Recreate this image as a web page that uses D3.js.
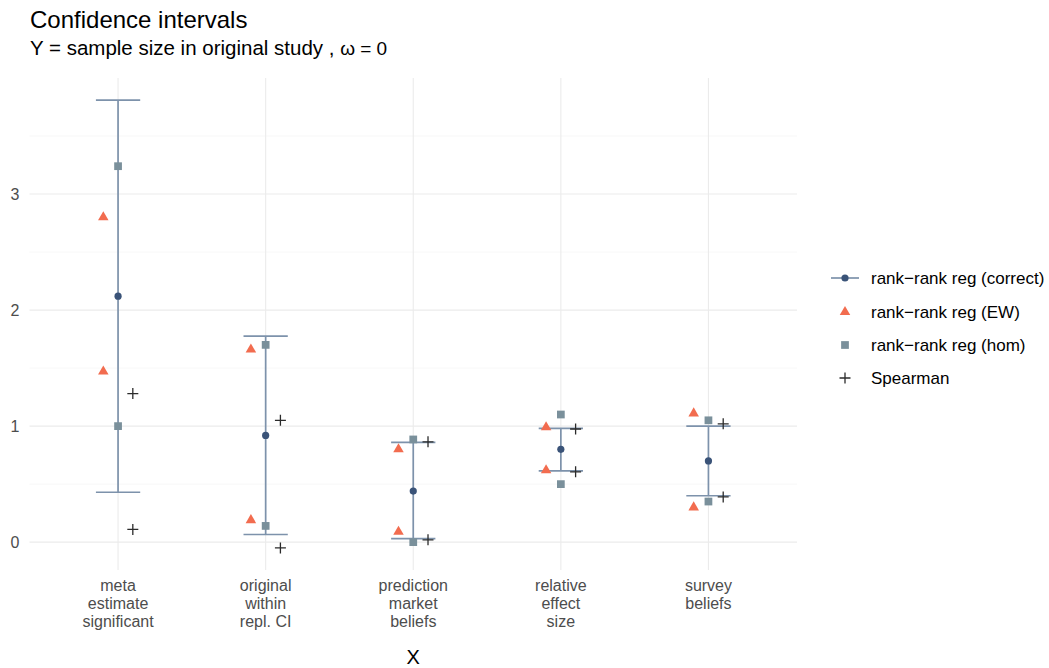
<!DOCTYPE html>
<html><head><meta charset="utf-8">
<script src="https://cdn.jsdelivr.net/npm/d3@7"></script>
<style>body{margin:0;background:#fff}svg{display:block;font-family:"Liberation Sans",Arial,sans-serif}</style>
</head><body>
<svg id="c" width="1049" height="668"></svg>
<script>
const categories = ["meta\nestimate\nsignificant","original\nwithin\nrepl. CI","prediction\nmarket\nbeliefs","relative\neffect\nsize","survey\nbeliefs"];
const correctEst = [2.12, 0.92, 0.44, 0.80, 0.70];
const correctLow = [0.43, 0.066, 0.03, 0.615, 0.40];
const correctHigh = [3.81, 1.775, 0.86, 0.98, 1.00];
const ewHigh = [2.80, 1.66, 0.80, 0.99, 1.11];
const ewLow = [1.47, 0.19, 0.09, 0.62, 0.30];
const homHigh = [3.24, 1.70, 0.885, 1.10, 1.05];
const homLow = [1.00, 0.14, 0.00, 0.50, 0.35];
const spearHigh = [1.28, 1.05, 0.865, 0.975, 1.02];
const spearLow = [0.11, -0.05, 0.02, 0.606, 0.39];
const yTicks = [0, 1, 2, 3];
const legendLabels = ["rank\u2212rank reg (correct)","rank\u2212rank reg (EW)","rank\u2212rank reg (hom)","Spearman"];

const colCI = "#7d92ab", colPt = "#3a5378", colEW = "#f26c4f", colHom = "#7a909b", colSp = "#2b2b2b";
const svg = d3.select("#c");
const L = 29.5, R = 797, T = 78, B = 570;
const x = d3.scaleLinear().domain([-0.6, 4.6]).range([L, R]);
const y = d3.scaleLinear().domain([-0.24, 4.0]).range([B, T]);
const dodge = 0.1;

// grid
const g = svg.append("g");
[0.5, 1.5, 2.5, 3.5].forEach(v => {
  g.append("line").attr("x1", L).attr("x2", R).attr("y1", y(v)).attr("y2", y(v)).attr("stroke", "#f2f2f2").attr("stroke-width", 0.6);
});
yTicks.forEach(v => {
  g.append("line").attr("x1", L).attr("x2", R).attr("y1", y(v)).attr("y2", y(v)).attr("stroke", "#ebebeb").attr("stroke-width", 1.1);
});
categories.forEach((c, i) => {
  g.append("line").attr("x1", x(i)).attr("x2", x(i)).attr("y1", T).attr("y2", B).attr("stroke", "#ebebeb").attr("stroke-width", 1.1);
});

// y axis labels
svg.append("g").selectAll("text").data(yTicks).join("text")
  .attr("x", 19.5).attr("y", d => y(d)).attr("dy", "0.36em").attr("text-anchor", "end")
  .attr("font-size", 16).attr("fill", "#4d4d4d").text(d => d);

// x labels
categories.forEach((c, i) => {
  const t = svg.append("text").attr("text-anchor", "middle").attr("font-size", 16).attr("fill", "#4d4d4d");
  c.split("\n").forEach((line, j) => {
    t.append("tspan").attr("x", x(i)).attr("y", 591 + j * 18).text(line);
  });
});
svg.append("text").attr("x", x(2)).attr("y", 664).attr("text-anchor", "middle").attr("font-size", 20).attr("fill", "#000").text("X");

// title
svg.append("text").attr("x", 30).attr("y", 28).attr("font-size", 24).attr("fill", "#000").text("Confidence intervals");
const sub = svg.append("text").attr("x", 30).attr("y", 55).attr("font-size", 20.5).attr("fill", "#000");
sub.append("tspan").text("Y = sample size in original study , ");
sub.append("tspan").attr("font-size", 19).text("\u03c9 = 0");

// CI errorbars
const hw = 0.15;
const idx = d3.range(categories.length);
const eb = svg.append("g").attr("stroke", colCI).attr("stroke-width", 1.7).attr("fill", "none");
idx.forEach(i => {
  eb.append("line").attr("x1", x(i)).attr("x2", x(i)).attr("y1", y(correctLow[i])).attr("y2", y(correctHigh[i]));
  eb.append("line").attr("x1", x(i - hw)).attr("x2", x(i + hw)).attr("y1", y(correctLow[i])).attr("y2", y(correctLow[i]));
  eb.append("line").attr("x1", x(i - hw)).attr("x2", x(i + hw)).attr("y1", y(correctHigh[i])).attr("y2", y(correctHigh[i]));
});

const tri = d3.symbol().type(d3.symbolTriangle).size(48);
const sq = d3.symbol().type(d3.symbolSquare).size(60);
const plus = "M-5.5,0H5.5M0,-5.5V5.5";

function drawTri(arr) {
  svg.append("g").selectAll("path").data(arr).join("path")
    .attr("d", tri).attr("fill", colEW)
    .attr("transform", (d, i) => `translate(${x(i - dodge)},${y(d)})`);
}
function drawSq(arr) {
  svg.append("g").selectAll("path").data(arr).join("path")
    .attr("d", sq).attr("fill", colHom)
    .attr("transform", (d, i) => `translate(${x(i)},${y(d)})`);
}
function drawPlus(arr) {
  svg.append("g").selectAll("path").data(arr).join("path")
    .attr("d", plus).attr("stroke", colSp).attr("stroke-width", 1.3).attr("fill", "none")
    .attr("transform", (d, i) => `translate(${x(i + dodge)},${y(d)})`);
}
drawTri(ewHigh); drawTri(ewLow);
drawSq(homHigh); drawSq(homLow);
drawPlus(spearHigh); drawPlus(spearLow);
svg.append("g").selectAll("circle").data(correctEst).join("circle")
  .attr("cx", (d, i) => x(i)).attr("cy", d => y(d)).attr("r", 3.6).attr("fill", colPt);

// legend
const lg = svg.append("g");
const ly = [278, 312, 345, 378];
legendLabels.forEach((t, k) => {
  const cy = ly[k];
  if (k === 0) {
    lg.append("line").attr("x1", 831).attr("x2", 859).attr("y1", cy).attr("y2", cy).attr("stroke", colCI).attr("stroke-width", 1.7);
    lg.append("circle").attr("cx", 845).attr("cy", cy).attr("r", 3.6).attr("fill", colPt);
  } else if (k === 1) {
    lg.append("path").attr("d", tri).attr("fill", colEW).attr("transform", `translate(845,${cy})`);
  } else if (k === 2) {
    lg.append("path").attr("d", sq).attr("fill", colHom).attr("transform", `translate(845,${cy})`);
  } else {
    lg.append("path").attr("d", plus).attr("stroke", colSp).attr("stroke-width", 1.3).attr("transform", `translate(845,${cy})`);
  }
  lg.append("text").attr("x", 871).attr("y", cy).attr("dy", "0.36em").attr("font-size", 17).attr("fill", "#000").text(t);
});
</script>
</body></html>
